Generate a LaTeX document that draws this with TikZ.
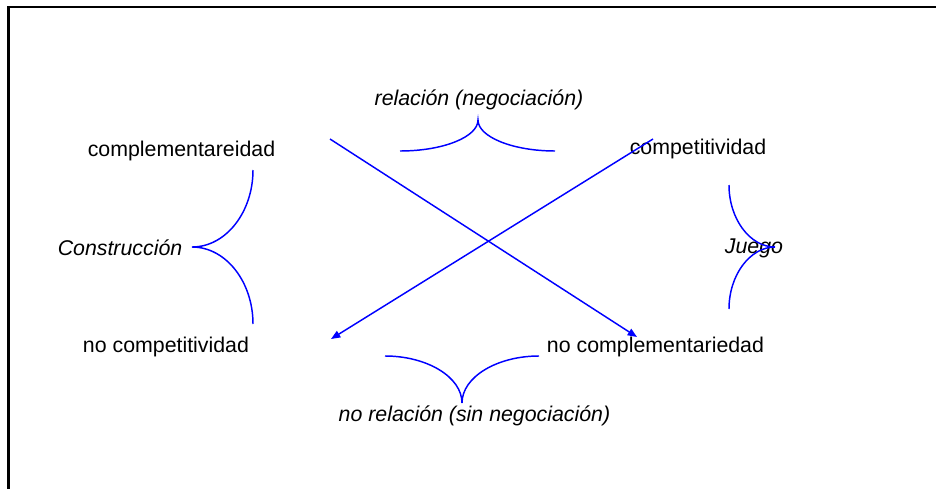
\documentclass[tikz,border=0pt]{standalone}
\usepackage{fontspec}
\setmainfont{Liberation Sans}
\usetikzlibrary{arrows.meta,positioning}
\definecolor{linkblue}{RGB}{0,0,255}

\begin{document}
\begin{tikzpicture}[x=0.75pt,y=-0.75pt,
    every node/.style={font=\fontsize{16}{19}\selectfont,inner sep=0pt},
    pole/.style={anchor=base,text=black},
    axis/.style={anchor=base,font=\fontsize{16}{19}\selectfont\itshape},
    brace/.style={draw=linkblue,line width=1.1pt},
    arr/.style={-{Triangle[length=7pt,width=5.5pt]},draw=linkblue,line width=1.1pt}
]
\useasboundingbox (0,0) rectangle (936,489);
\draw[line width=1.7pt] (8.5,489) -- (8.5,7) -- (936,7);

\node[pole] (comp)   at (181.5,156) {complementareidad};
\node[pole] (compet) at (698,154)   {competitividad};
\node[pole] (nocompet) at (166,352) {no competitividad};
\node[pole] (nocomp)   at (655.5,352) {no complementariedad};

\node[axis] (rel)   at (479,105)   {relación (negociación)};
\node[axis] (norel) at (474.5,421) {no relación (sin negociación)};
\node[axis] (cons)  at (120,255)   {Construcción};
\node[axis] (juego) at (754,253)   {Juego};

% arrow end points
\coordinate (a1) at (330,139);
\coordinate (b1) at (637,337);
\coordinate (a2) at (653,139);
\coordinate (b2) at (331,339);

\draw[arr] (a1) -- (b1);
\draw[arr] (a2) -- (b2);

% braces
\draw[brace] (400,151) .. controls (443,151) and (478,137) .. (478,120)
             .. controls (478,137) and (513,151) .. (555,151);
\draw[brace] (385,356) .. controls (427,356) and (462,377) .. (462,403)
             .. controls (462,377) and (497,356) .. (539,356);
\draw[brace] (253,170) .. controls (253,212) and (226,247) .. (192,247)
             .. controls (226,247) and (253,282) .. (253,324);
\draw[brace] (729,185) .. controls (729,219) and (750,247) .. (775,247)
             .. controls (750,247) and (729,275) .. (729,309);
\end{tikzpicture}
\end{document}
